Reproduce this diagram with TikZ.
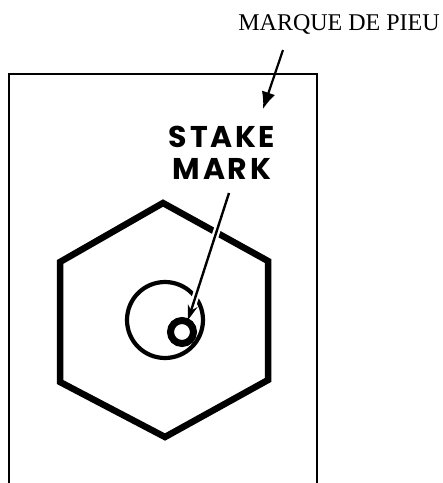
\documentclass[tikz,border=0pt]{standalone}
\usepackage{fontspec}
\setmainfont{Liberation Serif}
\newfontfamily\stakefont[LetterSpace=9]{Poppins Bold}
\usetikzlibrary{arrows.meta}
\tikzset{
  frame/.style={line width=2pt},
  nut/.style={line width=6.5pt, line join=miter},
  washer/.style={line width=4.2pt},
  pin/.style={line width=7pt},
  pointer/.style={line width=2.2pt, -{Latex[length=17pt,width=14pt]}},
  inpointer/.style={line width=2.4pt, -{Stealth[length=15pt,width=10pt]},
    preaction={draw=white, line width=7pt, -{}}},
  label fr/.style={font=\fontsize{24}{26}\selectfont, inner sep=0pt},
  label en/.style={font=\stakefont\fontsize{30}{36}\selectfont, inner sep=0pt, align=center}
}
\begin{document}
\begin{tikzpicture}[x=1pt,y=-1pt]
\useasboundingbox (0,0) rectangle (443,483);
% open frame
\draw[frame] (9,490) -- (9,74) -- (317,74) -- (317,490);
% hexagon
\coordinate (h1) at (163,203);
\coordinate (h2) at (268,261);
\coordinate (h3) at (268,380);
\coordinate (h4) at (165,437);
\coordinate (h5) at (60,382);
\coordinate (h6) at (60,262);
\draw[nut] (h1) -- (h2) -- (h3) -- (h4) -- (h5) -- (h6) -- cycle;
% washer and pin
\node[washer, draw, circle, minimum size=76pt, inner sep=0pt] (washer) at (165,320) {};
% labels
\node[label fr, anchor=base] (fr) at (339,30) {MARQUE DE PIEU};
\node[label en] (en) at (222,153) {STAKE\\[-4pt]MARK};
% arrows
\coordinate (a1s) at (283,50);
\coordinate (a1e) at (263,109);
\draw[pointer] (a1s) -- (a1e);
\coordinate (a2s) at (229,193);
\coordinate (a2e) at (188,320);
\draw[inpointer] (a2s) -- (a2e);
\node[pin, draw, circle, minimum size=23pt, inner sep=0pt] (pinhead) at (182,332) {};
\end{tikzpicture}
\end{document}
